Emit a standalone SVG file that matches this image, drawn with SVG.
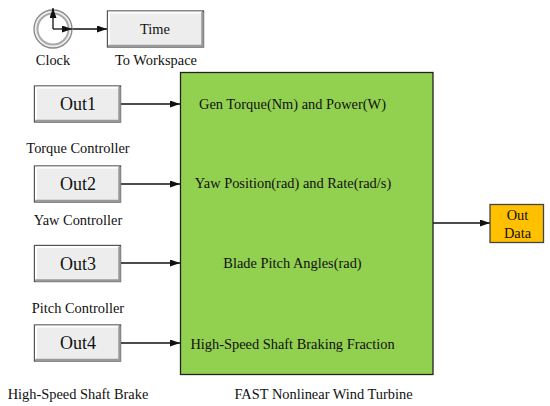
<svg xmlns="http://www.w3.org/2000/svg" width="550" height="406" viewBox="0 0 550 406">
<style>
text{font-family:"Liberation Serif","Times New Roman",serif;fill:#111;text-anchor:middle}
.l{font-size:14.4px}
.o{font-size:18px}
.c{stroke:#111;stroke-width:1.3;fill:none}
.b{fill:#ededed;stroke:#555;stroke-width:1.4}
.hl{fill:none;stroke:#fff;stroke-width:2}
.sh{fill:none;stroke:#999;stroke-width:2.5}
</style>
<defs>
<marker id="a" markerUnits="userSpaceOnUse" markerWidth="11" markerHeight="8" refX="10" refY="3.500" orient="auto"><path d="M0 0L10 3.500L0 7Z" fill="#111"/></marker>
<linearGradient id="g" x1="0" y1="0" x2="0" y2="1"><stop offset="0" stop-color="#f4f4f4"/><stop offset="1" stop-color="#e4e4e4"/></linearGradient>
</defs>
<rect width="550" height="406" fill="#fff"/>
<g id="connectors">
<path class="c" d="M72 29H107" marker-end="url(#a)"/>
<path class="c" d="M121 104H180" marker-end="url(#a)"/>
<path class="c" d="M121 184H180" marker-end="url(#a)"/>
<path class="c" d="M121 263H180" marker-end="url(#a)"/>
<path class="c" d="M121 343H180" marker-end="url(#a)"/>
<path class="c" d="M433 223H490" marker-end="url(#a)"/>
</g>
<g id="clock">
<circle cx="53" cy="29" r="19" fill="#eee" stroke="#888" stroke-width="1.3"/>
<circle cx="53" cy="29" r="15.500" fill="#fff" stroke="#aaa" stroke-width="2"/>
<path class="c" d="M53 29V8" marker-end="url(#a)"/>
<path class="c" d="M53 29H72" marker-end="url(#a)"/>
<text class="l" x="53" y="64.500">Clock</text>
</g>
<g id="to-workspace">
<rect class="b" x="107.500" y="11" width="96" height="36" fill="url(#g)"/>
<path class="hl" d="M109 45V12.500H202"/>
<path class="sh" d="M202.500 12V46H108.500"/>
<text class="l" x="155" y="34">Time</text>
<text class="l" x="156" y="64.500">To Workspace</text>
</g>
<g id="torque-controller">
<rect class="b" x="34.500" y="86" width="86" height="36"/>
<path class="hl" d="M36 120V87.500H119"/>
<path class="sh" d="M119.500 87V121H35.500"/>
<text class="o" x="78" y="110">Out1</text>
<text class="l" x="78" y="152.500">Torque Controller</text>
</g>
<g id="yaw-controller">
<rect class="b" x="34.500" y="166" width="86" height="36"/>
<path class="hl" d="M36 200V167.500H119"/>
<path class="sh" d="M119.500 167V201H35.500"/>
<text class="o" x="78" y="190">Out2</text>
<text class="l" x="78" y="225">Yaw Controller</text>
</g>
<g id="pitch-controller">
<rect class="b" x="34.500" y="245.500" width="86" height="36"/>
<path class="hl" d="M36 279.500V247H119"/>
<path class="sh" d="M119.500 246.500V280.500H35.500"/>
<text class="o" x="78" y="270">Out3</text>
<text class="l" x="78" y="312.500">Pitch Controller</text>
</g>
<g id="brake">
<rect class="b" x="34.500" y="325" width="86" height="36"/>
<path class="hl" d="M36 359V326.500H119"/>
<path class="sh" d="M119.500 326V360H35.500"/>
<text class="o" x="78" y="349">Out4</text>
<text class="l" x="78" y="399">High-Speed Shaft Brake</text>
</g>
<g id="fast-turbine">
<rect x="180.500" y="72.500" width="252.500" height="302" fill="#92d050" stroke="#222" stroke-width="1.3"/>
<text class="l" x="292.500" y="109">Gen Torque(Nm) and Power(W)</text>
<text class="l" x="293" y="188">Yaw Position(rad) and Rate(rad/s)</text>
<text class="l" x="292.500" y="268">Blade Pitch Angles(rad)</text>
<text class="l" x="292.500" y="349">High-Speed Shaft Braking Fraction</text>
<text class="l" x="323.500" y="399">FAST Nonlinear Wind Turbine</text>
</g>
<g id="out-data">
<rect x="490" y="204.500" width="53.500" height="38" fill="#ffc000" stroke="#444" stroke-width="1.3"/>
<text class="l" x="517.500" y="220">Out</text>
<text class="l" x="517.500" y="238">Data</text>
</g>
</svg>
